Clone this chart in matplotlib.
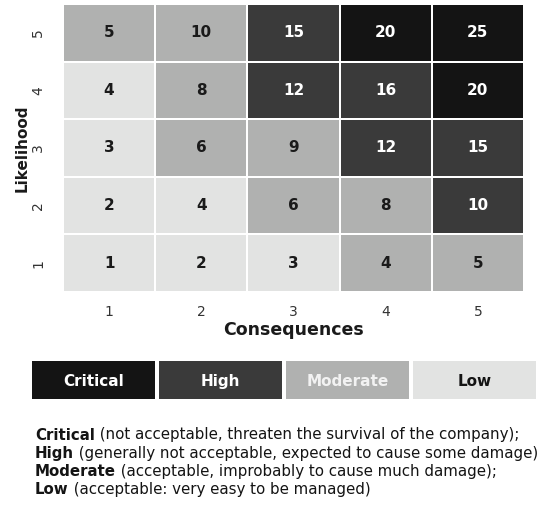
import numpy as np
import matplotlib
matplotlib.use("Agg")
import matplotlib.pyplot as plt
from matplotlib.colors import ListedColormap

plt.rcParams['font.family'] = ['DejaVu Sans']

# risk grid: rows = likelihood 1..5, cols = consequences 1..5
likelihood = [1, 2, 3, 4, 5]
consequences = [1, 2, 3, 4, 5]

# 0 = Low, 1 = Moderate, 2 = High, 3 = Critical
levels = [
    [0, 0, 0, 1, 1],
    [0, 0, 1, 1, 2],
    [0, 1, 1, 2, 2],
    [0, 1, 2, 2, 3],
    [1, 1, 2, 3, 3],
]

level_names = ['Critical', 'High', 'Moderate', 'Low']
level_colors = ['#141414', '#3a3a3a', '#b0b1b0', '#e2e3e2']
level_text = ['#ffffff', '#ffffff', '#f2f2f2', '#141414']

notes = [
    ('Critical', ' (not acceptable, threaten the survival of the company);'),
    ('High', ' (generally not acceptable, expected to cause some damage);'),
    ('Moderate', ' (acceptable, improbably to cause much damage);'),
    ('Low', ' (acceptable: very easy to be managed)'),
]

W, H = 538, 507
fig = plt.figure(figsize=(W / 100, H / 100), dpi=100)

def box(x0, y0, x1, y1):
    return [x0 / W, 1 - y1 / H, (x1 - x0) / W, (y1 - y0) / H]

# heatmap
ax = fig.add_axes(box(63, 4, 524, 292))
lev = np.array(levels)
cmap = ListedColormap(level_colors[::-1])  # index 0 -> Low
edges_x = np.arange(len(consequences) + 1) + 0.5
edges_y = np.arange(len(likelihood) + 1) + 0.5
ax.pcolormesh(edges_x, edges_y, lev, cmap=cmap, vmin=-0.5, vmax=3.5,
              edgecolors='white', linewidth=1.2)
for i, l in enumerate(likelihood):
    for j, c in enumerate(consequences):
        col = '#ffffff' if lev[i, j] >= 2 else '#1a1a1a'
        ax.text(c, l, str(l * c), ha='center', va='center',
                fontsize=11, fontweight='bold', color=col)

ax.set_xlim(0.5, 5.5)
ax.set_ylim(0.5, 5.5)
ax.set_xticks(consequences)
ax.set_yticks(likelihood)
ax.set_yticklabels([str(v) for v in likelihood], rotation=90, va='center')
ax.tick_params(length=0, labelsize=10, colors='#333333', pad=9)
ax.tick_params(axis='y', pad=13)
for s in ax.spines.values():
    s.set_visible(False)
ax.set_xlabel('Consequences', fontsize=12.5, fontweight='bold', labelpad=2,
              color='#1a1a1a')
ax.set_ylabel('Likelihood', fontsize=11, fontweight='bold', labelpad=1,
              color='#1a1a1a')

# legend strip
lax = fig.add_axes(box(32, 361, 538, 399))
pos = np.arange(len(level_names))
lax.bar(pos, 1, width=0.97, align='edge', color=level_colors)
for p, name, tc in zip(pos, level_names, level_text):
    lax.text(p + 0.485, 0.5, name, ha='center', va='center_baseline',
             fontsize=11, fontweight='bold', color=tc)
lax.set_xlim(0, 506 / 127)
lax.set_ylim(0, 1)
lax.axis('off')

# notes under the legend
y = 1 - 435 / H
for bold, rest in notes:
    t = fig.text(35 / W, y, bold, fontsize=10.8, fontweight='bold',
                 color='#141414', va='center')
    fig.add_artist(plt.Annotation(rest, xy=(1, 0.5), xycoords=t,
                                  va='center', fontsize=10.8,
                                  color='#141414'))
    y -= 18.3 / H

fig.savefig('out.png', dpi=100)
